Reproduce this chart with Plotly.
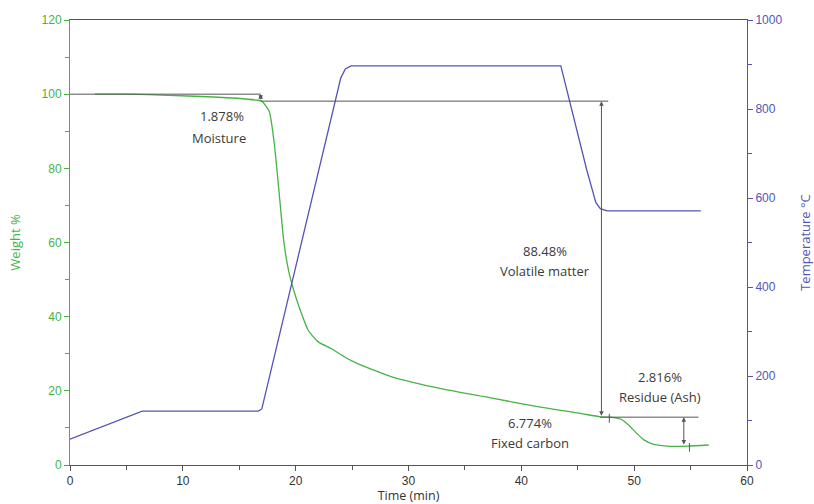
import plotly.graph_objects as go

# ---- data ----
time_w = [2.2, 5.2, 8.7, 12.2, 14.8, 16.5, 17.0, 17.65, 18.08, 18.38, 18.66, 18.95, 19.38, 19.82,
          20.4, 21.1, 22.0, 23.15, 24.3, 25.3, 26.9, 28.6, 33.0, 37.3, 41.7, 45.1, 47.0, 48.2,
          48.8, 49.5, 50.2, 50.9, 51.6, 52.9, 54.7, 56.6]
weight = [100.0, 100.0, 99.7, 99.3, 98.9, 98.4, 98.1, 95.4, 87.3, 78.4, 69.3, 60.3, 52.3, 47.2,
          41.8, 36.4, 33.2, 31.4, 29.2, 27.6, 25.6, 23.7, 20.5, 18.1, 15.6, 14.0, 13.0, 12.8,
          12.4, 10.8, 8.6, 6.7, 5.7, 5.1, 5.1, 5.4]

time_t = [0.0, 6.4, 16.7, 17.0, 24.0, 24.4, 24.9, 43.5, 45.8, 46.6, 47.0, 47.6, 55.9]
temp = [58, 121, 121, 126, 870, 890, 897, 897, 663, 590, 576, 571, 571]

x_ticks = [0, 10, 20, 30, 40, 50, 60]

labels = [
    ("1.878%", 13.45, 94.0), ("Moisture", 13.2, 88.3),
    ("88.48%", 42.1, 57.7), ("Volatile matter", 42.1, 52.3),
    ("2.816%", 52.3, 23.7), ("Residue (Ash)", 52.3, 18.3),
    ("6.774%", 40.8, 11.3), ("Fixed carbon", 40.8, 5.9),
]

GREEN = '#45b445'
BLUE = '#5454b6'
GRAY = '#3a3a3a'
LINE = '#555555'

fig = go.Figure()
fig.add_trace(go.Scatter(x=time_w, y=weight, mode='lines', line_shape='spline',
                         line=dict(color=GREEN, width=1.3, smoothing=0.6), yaxis='y', hoverinfo='skip'))
fig.add_trace(go.Scatter(x=time_t, y=temp, mode='lines',
                         line=dict(color=BLUE, width=1.3), yaxis='y2', hoverinfo='skip'))

# guide lines
shapes = [
    dict(type='line', xref='x', yref='y', x0=0, x1=16.9, y0=100, y1=100, line=dict(color=LINE, width=1)),
    dict(type='line', xref='x', yref='y', x0=16.9, x1=47.7, y0=98.12, y1=98.12, line=dict(color=LINE, width=1)),
    dict(type='line', xref='x', yref='y', x0=47.0, x1=55.7, y0=12.9, y1=12.9, line=dict(color=LINE, width=1)),
    dict(type='line', xref='x', yref='y', x0=47.8, x1=47.8, y0=11.4, y1=13.8, line=dict(color=LINE, width=1)),
    dict(type='line', xref='x', yref='y', x0=54.9, x1=54.9, y0=3.6, y1=5.9, line=dict(color=LINE, width=1)),
]

annotations = []
for txt, x, y in labels:
    annotations.append(dict(x=x, y=y, xref='x', yref='y', text=txt, showarrow=False,
                            font=dict(family='Open Sans', size=13, color=GRAY)))

def darrow(x, y0, y1):
    return dict(x=x, y=y1, ax=x, ay=y0, xref='x', yref='y', axref='x', ayref='y',
                text='', showarrow=True, arrowhead=2, arrowside='end+start',
                arrowsize=0.9, arrowwidth=1, arrowcolor=LINE, standoff=0, startstandoff=0)

annotations += [darrow(16.9, 98.12, 100.0), darrow(47.1, 12.9, 98.12), darrow(54.4, 5.1, 12.9)]

axis_font = dict(family='Liberation Sans', size=12)

fig.update_layout(
    width=814, height=504,
    margin=dict(l=70, r=67, t=20, b=39),
    paper_bgcolor='white', plot_bgcolor='white',
    showlegend=False,
    shapes=shapes, annotations=annotations,
    xaxis=dict(range=[0, 60], tickvals=x_ticks, ticks='outside', ticklen=5, tickcolor=LINE,
               showline=True, linecolor=LINE, linewidth=1, mirror=True, automargin=False,
               showgrid=False, zeroline=False,
               minor=dict(dtick=5, tick0=0, ticks='outside', ticklen=4, tickcolor=LINE),
               tickfont=dict(color='#333333', **axis_font),
               title=dict(text='Time (min)', font=dict(family='Open Sans', size=12.5, color='#333333'),
                          standoff=5)),
    yaxis=dict(range=[0, 120], dtick=20, ticks='outside', ticklen=5, tickcolor=GREEN,
               showline=True, linecolor=GREEN, linewidth=1, automargin=False,
               showgrid=False, zeroline=False,
               minor=dict(dtick=10, ticks='outside', ticklen=4, tickcolor=GREEN),
               tickfont=dict(color=GREEN, **axis_font),
               title=dict(text='Weight %', font=dict(family='Open Sans', size=13, color=GREEN),
                          standoff=18)),
    yaxis2=dict(range=[0, 1000], dtick=200, overlaying='y', side='right',
                ticks='outside', ticklen=5, tickcolor=BLUE,
                showline=True, linecolor=BLUE, linewidth=1, automargin=False,
                showgrid=False, zeroline=False,
                minor=dict(dtick=100, ticks='outside', ticklen=4, tickcolor=BLUE),
                tickfont=dict(color=BLUE, **axis_font),
                title=dict(text='Temperature °C', font=dict(family='Open Sans', size=13, color=BLUE),
                           standoff=32)),
)

fig.write_html("out.html")
